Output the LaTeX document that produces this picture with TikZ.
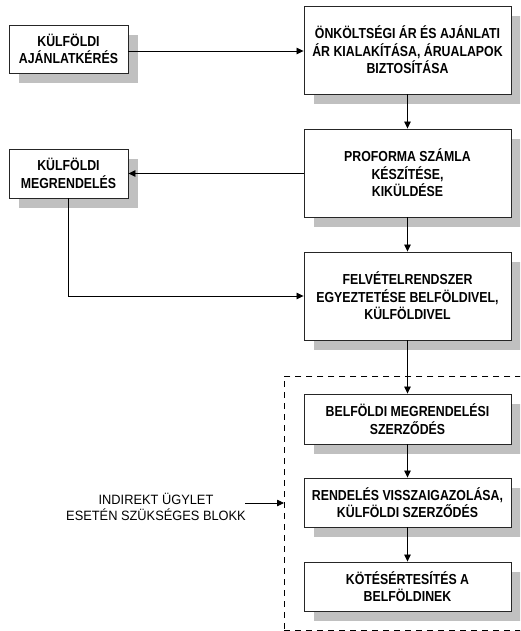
\documentclass[tikz,border=0pt]{standalone}
\usepackage{fontspec}
\setmainfont{Liberation Sans}
\newfontfamily\boxfont[FakeStretch=0.85]{Liberation Sans}
\newfontfamily\notefont[FakeStretch=0.95]{Liberation Sans}
\usetikzlibrary{arrows.meta,shadows}
\definecolor{shadowgray}{RGB}{192,192,192}
\begin{document}
\begin{tikzpicture}[x=1pt,y=-1pt,
  box/.style={draw=black!85, line width=0.9pt, fill=white, align=center,
    font=\boxfont\fontsize{14.5}{17.5}\selectfont\bfseries, inner sep=0pt,
    general shadow={fill=shadowgray, shadow xshift=10pt, shadow yshift=-10pt}},
  wide/.style={box, minimum width=207pt},
  small/.style={box, minimum width=119pt},
  conn/.style={line width=0.8pt, -{Triangle[length=7pt,width=6.5pt]}},
  dashbox/.style={draw, line width=0.8pt, dash pattern=on 6pt off 5pt},
  note/.style={align=center, font=\notefont\fontsize{13.5}{16}\selectfont}]
\clip (0,0) rectangle (520,631);
\fill[white] (0,0) rectangle (520,631);

% grouped block of the indirect case
\node[dashbox, anchor=north west, minimum width=250pt, minimum height=254pt, inner sep=0pt] (blk) at (284,376) {};

% left column
\node[small, minimum height=48pt] (ajk) at (68.5,49) {KÜLFÖLDI\\AJÁNLATKÉRÉS};
\node[small, minimum height=49pt] (meg) at (68.5,173.5) {KÜLFÖLDI\\MEGRENDELÉS};

% main column
\node[wide, minimum height=88pt] (onk) at (407.5,50) {ÖNKÖLTSÉGI ÁR ÉS AJÁNLATI\\ÁR KIALAKÍTÁSA, ÁRUALAPOK\\BIZTOSÍTÁSA};
\node[wide, minimum height=88pt] (pro) at (407.5,173) {PROFORMA SZÁMLA\\KÉSZÍTÉSE,\\KIKÜLDÉSE};
\node[wide, minimum height=88pt] (fel) at (407.5,296) {FELVÉTELRENDSZER\\EGYEZTETÉSE BELFÖLDIVEL,\\KÜLFÖLDIVEL};
\node[wide, minimum height=50pt] (bel) at (407.5,419) {BELFÖLDI MEGRENDELÉSI\\SZERZŐDÉS};
\node[wide, minimum height=49pt] (ren) at (407.5,502.5) {RENDELÉS VISSZAIGAZOLÁSA,\\KÜLFÖLDI SZERZŐDÉS};
\node[wide, minimum height=49pt] (kot) at (407.5,586.5) {KÖTÉSÉRTESÍTÉS A\\BELFÖLDINEK};

% side note
\node[note] (lbl) at (156,507) {INDIREKT ÜGYLET\\ESETÉN SZÜKSÉGES BLOKK};
\coordinate (lblend) at (245,503);

% connectors
\draw[conn] (ajk.east |- 0,51) -- (onk.west |- 0,51);
\draw[conn] (onk.south) -- (pro.north);
\draw[conn] (pro.west |- meg.east) -- (meg.east);
\draw[conn] (pro.south) -- (fel.north);
\draw[conn] (meg.south) |- (fel.west);
\draw[conn] (fel.south) -- (bel.north);
\draw[conn] (bel.south) -- (ren.north);
\draw[conn] (ren.south) -- (kot.north);
\draw[conn] (lblend) -- (lblend -| blk.west);
\end{tikzpicture}
\end{document}
